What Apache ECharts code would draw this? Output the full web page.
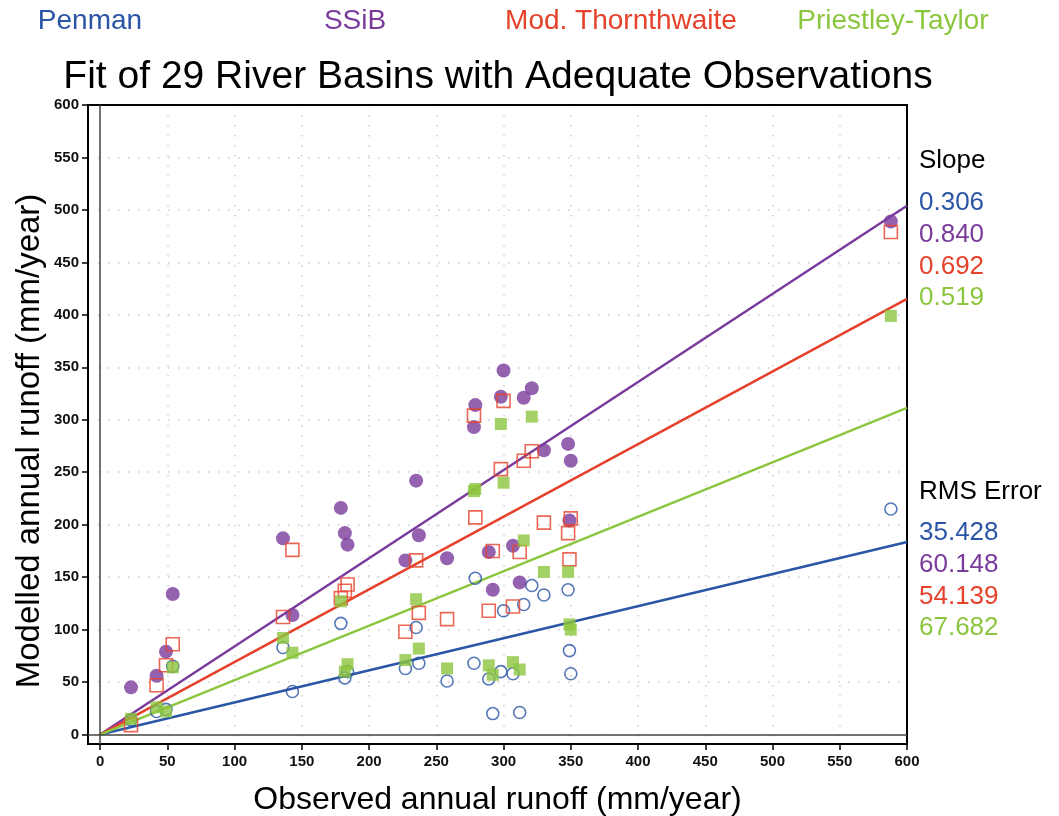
<!DOCTYPE html>
<html>
<head>
<meta charset="utf-8">
<title>Fit of 29 River Basins with Adequate Observations</title>
<script src="https://cdn.jsdelivr.net/npm/echarts@6/dist/echarts.min.js"></script>
<style>
  html, body { margin: 0; padding: 0; background: #ffffff; }
  #chart { width: 1059px; height: 816px; }
</style>
</head>
<body>
<div id="chart"></div>
<script>
// Observed annual runoff of each river basin (mm/year)
const observed = [23, 42, 49, 54, 136, 143, 179, 182, 184, 227, 235, 237, 258, 278, 279,
                  289, 292, 298, 300, 307, 312, 315, 321, 330, 348, 349, 350, 588];

// Modelled annual runoff per basin for each evaporation scheme (mm/year)
const penman       = [14, 22, 24, 65, 83, 41, 106, 54, 60, 63, 102, 68, 51, 68, 149,
                      53, 20, 60, 118, 58, 21, 124, 142, 133, 138, 80, 58, 215];
const ssib         = [45, 56, 79, 134, 187, 114, 216, 192, 181, 166, 242, 190, 168, 293, 314,
                      174, 138, 322, 347, 180, 145, 321, 330, 271, 277, 204, 261, 489];
const thornthwaite = [9, 47, 66, 86, 112, 176, 130, 137, 143, 98, 166, 116, 110, 304, 207,
                      118, 175, 253, 318, 122, 174, 261, 270, 202, 192, 167, 206, 479];
const priestley    = [15, 26, 22, 64, 92, 78, 127, 60, 67, 71, 129, 82, 63, 232, 234,
                      66, 57, 296, 240, 69, 62, 185, 303, 155, 155, 105, 100, 399];

const modelNames  = ['Penman', 'SSiB', 'Mod. Thornthwaite', 'Priestley-Taylor'];
const slopeLabels = ['0.306', '0.840', '0.692', '0.519'];
const rmsLabels   = ['35.428', '60.148', '54.139', '67.682'];
const tickValues  = [0, 50, 100, 150, 200, 250, 300, 350, 400, 450, 500, 550, 600];

const colors = ['#2b55a5', '#7a3b9c', '#e6412b', '#8cc63f'];
const slopes = slopeLabels.map(Number);
const modelValues = [penman, ssib, thornthwaite, priestley];

const TEXT_FONT = "'Liberation Sans', Arial, sans-serif";

const chart = echarts.init(document.getElementById('chart'), null, { renderer: 'canvas' });

// regression lines through the origin, one per scheme
const fitSeries = slopes.map((s, i) => ({
  name: modelNames[i] + ' fit',
  type: 'line',
  data: [[0, 0], [600, 600 * s]],
  showSymbol: false,
  silent: true,
  z: 2,
  lineStyle: { color: colors[i], width: 2.5 },
  markLine: i === 0 ? {
    silent: true,
    symbol: ['none', 'none'],
    label: { show: false },
    lineStyle: { color: '#444', width: 1.5, type: 'solid' },
    data: [{ xAxis: 0 }, { yAxis: 0 }]
  } : undefined
}));

const markerStyles = [
  { symbol: 'circle', symbolSize: 12, itemStyle: { color: 'rgba(255,255,255,0)', borderColor: colors[0], borderWidth: 1.6 } },
  { symbol: 'circle', symbolSize: 14, itemStyle: { color: colors[1] } },
  { symbol: 'rect',   symbolSize: 13, itemStyle: { color: 'rgba(255,255,255,0)', borderColor: colors[2], borderWidth: 1.6 } },
  { symbol: 'rect',   symbolSize: 12, itemStyle: { color: colors[3] } }
];

const scatterSeries = modelValues.map((vals, i) => Object.assign({
  name: modelNames[i],
  type: 'scatter',
  z: 3 + i,
  data: observed.map((x, k) => [x, vals[k]])
}, markerStyles[i]));

const axisCommon = {
  type: 'value',
  min: -9,
  max: 600,
  axisLine: { show: true, onZero: false, lineStyle: { color: '#000', width: 2 } },
  axisTick: { show: true, customValues: tickValues, length: 6, lineStyle: { color: '#000', width: 1.5 } },
  axisLabel: { customValues: tickValues, color: '#111', fontFamily: TEXT_FONT, fontSize: 15, fontWeight: 'bold' },
  splitLine: { show: true, lineStyle: { color: '#cdcdcd', width: 1.5, type: [1.5, 8.5] } }
};

// plain frame edges on the top and right
const frameAxis = {
  type: 'value',
  min: -9,
  max: 600,
  axisLine: { show: true, onZero: false, lineStyle: { color: '#000', width: 2 } },
  axisTick: { show: false },
  axisLabel: { show: false },
  splitLine: { show: false }
};

// coloured scheme names across the top
const headerItems = [
  { text: modelNames[0], x: 90 },
  { text: modelNames[1], x: 355 },
  { text: modelNames[2], x: 621 },
  { text: modelNames[3], x: 893 }
].map((h, i) => ({
  type: 'text', silent: true,
  style: { x: h.x, y: 21, text: h.text, fill: colors[i], font: "28px " + TEXT_FONT, verticalAlign: 'middle', align: 'center' }
}));

// slope and RMS error read-outs on the right
const statItems = [];
statItems.push({ type: 'text', silent: true, style: { x: 919, y: 161, text: 'Slope', fill: '#000', font: '26px ' + TEXT_FONT, verticalAlign: 'middle' } });
slopeLabels.forEach((t, i) => statItems.push({
  type: 'text', silent: true,
  style: { x: 919, y: 203 + i * 31.7, text: t, fill: colors[i], font: '26px ' + TEXT_FONT, verticalAlign: 'middle' }
}));
statItems.push({ type: 'text', silent: true, style: { x: 919, y: 492, text: 'RMS Error', fill: '#000', font: '26px ' + TEXT_FONT, verticalAlign: 'middle' } });
rmsLabels.forEach((t, i) => statItems.push({
  type: 'text', silent: true,
  style: { x: 919, y: 533 + i * 31.7, text: t, fill: colors[i], font: '26px ' + TEXT_FONT, verticalAlign: 'middle' }
}));

const option = {
  backgroundColor: '#ffffff',
  animation: false,
  grid: {
    left: 88, right: 152, top: 105, bottom: 72,
    containLabel: false, outerBoundsMode: 'none',
    show: true, borderColor: '#000', borderWidth: 2
  },
  xAxis: [
    Object.assign({}, axisCommon, {
      position: 'bottom',
      name: 'Observed annual runoff (mm/year)',
      nameLocation: 'middle',
      nameGap: 40,
      nameTextStyle: { color: '#000', fontFamily: TEXT_FONT, fontSize: 32 },
      axisLabel: Object.assign({}, axisCommon.axisLabel, { margin: 10 })
    }),
    Object.assign({}, frameAxis, { position: 'top' })
  ],
  yAxis: [
    Object.assign({}, axisCommon, {
      position: 'left',
      axisLabel: Object.assign({}, axisCommon.axisLabel, { margin: 9 })
    }),
    Object.assign({}, frameAxis, { position: 'right' })
  ],
  series: fitSeries.concat(scatterSeries),
  graphic: [
    {
      type: 'text', silent: true,
      style: { x: 498, y: 77, text: 'Fit of 29 River Basins with Adequate Observations', fill: '#000',
               font: '39px ' + TEXT_FONT, align: 'center', verticalAlign: 'middle' }
    },
    {
      type: 'text', silent: true, x: 30, y: 441, rotation: Math.PI / 2,
      style: { x: 0, y: 0, text: 'Modelled annual runoff (mm/year)', fill: '#000',
               font: '33px ' + TEXT_FONT, align: 'center', verticalAlign: 'middle' }
    }
  ].concat(headerItems, statItems)
};

chart.setOption(option);
</script>
</body>
</html>
